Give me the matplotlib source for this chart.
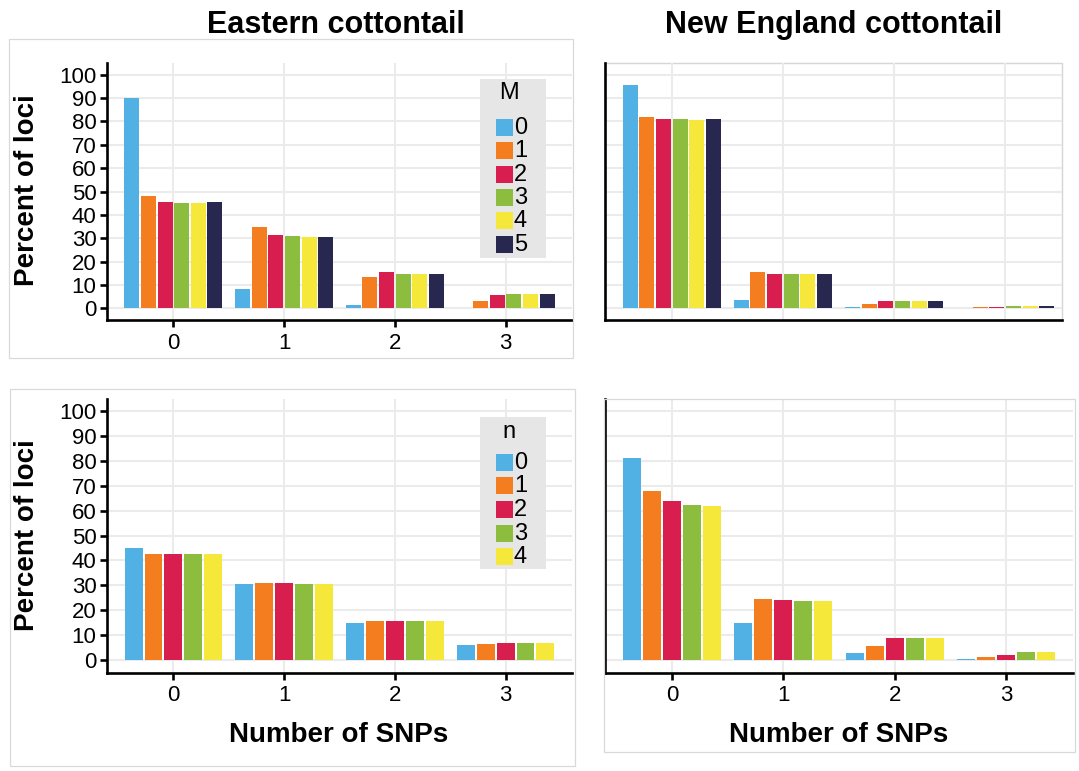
import numpy as np
import matplotlib
matplotlib.use("Agg")
import matplotlib.pyplot as plt
from matplotlib.patches import Rectangle
from matplotlib.lines import Line2D

# ---------------- data ----------------
snps = [0, 1, 2, 3]
snp_labels = ["0", "1", "2", "3"]
M_levels = ["0", "1", "2", "3", "4", "5"]
n_levels = ["0", "1", "2", "3", "4"]
y_ticks = list(range(0, 101, 10))

# Eastern cottontail, by M (rows = M level, cols = number of SNPs)
eastern_M = [
    [90.0, 8.3, 1.6, 0.3],
    [47.9, 35.0, 13.2, 3.3],
    [45.7, 31.2, 15.5, 5.6],
    [45.2, 30.9, 14.9, 6.2],
    [45.2, 30.6, 14.7, 6.0],
    [45.4, 30.6, 14.9, 6.0],
]
# New England cottontail, by M
newengland_M = [
    [95.6, 3.6, 0.7, 0.15],
    [82.1, 15.5, 1.7, 0.4],
    [81.1, 14.9, 3.3, 0.5],
    [80.9, 14.7, 3.0, 1.0],
    [80.8, 14.7, 3.0, 0.9],
    [81.1, 14.5, 3.0, 0.9],
]
# Eastern cottontail, by n
eastern_n = [
    [44.8, 30.7, 14.7, 6.0],
    [42.7, 31.1, 15.7, 6.6],
    [42.6, 30.8, 15.8, 6.7],
    [42.6, 30.7, 15.7, 6.7],
    [42.6, 30.5, 15.5, 6.7],
]
# New England cottontail, by n
newengland_n = [
    [81.1, 14.7, 3.0, 0.4],
    [67.7, 24.7, 5.6, 1.1],
    [63.7, 24.1, 8.8, 2.0],
    [62.2, 23.7, 8.8, 3.4],
    [61.9, 23.6, 8.7, 3.2],
]

colors = ["#51B1E4", "#F47D20", "#D81E4F", "#8CBD3F", "#F6E73B", "#27274F"]

titles = ["Eastern cottontail", "New England cottontail"]
ylabel = "Percent of loci"
xlabel = "Number of SNPs"

# ---------------- layout helpers ----------------
W, H = 1079, 771
FONT = "Liberation Sans"
plt.rcParams["font.family"] = [FONT, "DejaVu Sans"]

fig = plt.figure(figsize=(W / 100, H / 100), dpi=100)
fig.patch.set_facecolor("white")


def fx(x):
    return x / W


def fy(y):
    return 1 - y / H


def add_axes(x0, y0, x1, y1):
    return fig.add_axes([fx(x0), fy(y1), fx(x1) - fx(x0), (y1 - y0) / H])


def frame_box(x0, y0, x1, y1, z=0):
    fig.patches.append(Rectangle((fx(x0), fy(y1)), fx(x1) - fx(x0), (y1 - y0) / H,
                                 transform=fig.transFigure, fill=False,
                                 edgecolor="#D9D9D9", linewidth=0.9, zorder=z))


def draw_panel(ax, data, xlim, show_y, show_x, show_xticks):
    n = len(data)
    w = 0.9 / n
    x = np.array(snps, dtype=float)
    for i, vals in enumerate(data):
        off = -0.45 + w * (i + 0.5)
        ax.bar(x + off, vals, width=w * 0.9, color=colors[i], edgecolor="none",
               linewidth=0, zorder=3)
    ax.set_xlim(*xlim)
    ax.set_ylim(-5, 105)
    ax.set_yticks(y_ticks)
    ax.set_xticks(snps)
    ax.set_xticklabels(snp_labels)
    ax.grid(True, color="#EBEBEB", linewidth=1.5, zorder=0)
    ax.set_axisbelow(True)
    ax.set_facecolor("none")
    for s in ("top", "right"):
        ax.spines[s].set_visible(False)
    for s in ("left", "bottom"):
        ax.spines[s].set_color("black")
        ax.spines[s].set_linewidth(1.9)
        ax.spines[s].set_zorder(5)
    ax.tick_params(axis="both", labelsize=16, colors="black", width=1.9,
                   length=5, pad=2.5)
    ax.tick_params(axis="x", pad=4)
    if not show_y:
        ax.tick_params(axis="y", left=False, labelleft=False)
    if not show_xticks:
        ax.tick_params(axis="x", bottom=False)
    if not show_x:
        ax.tick_params(axis="x", labelbottom=False)


def draw_legend(title, levels, box, title_y, row0_y, row_step):
    x0, y0, x1, y1 = box
    fig.patches.append(Rectangle((fx(x0), fy(y1)), fx(x1) - fx(x0), (y1 - y0) / H,
                                 transform=fig.transFigure, facecolor="#E6E6E6",
                                 edgecolor="none", zorder=6))
    fig.text(fx(509), fy(title_y), title, fontsize=17, ha="center", va="center",
             zorder=7)
    for i, lab in enumerate(levels):
        yc = row0_y + row_step * i
        fig.patches.append(Rectangle((fx(496), fy(yc + 8.5)), 17 / W, 17 / H,
                                     transform=fig.transFigure,
                                     facecolor=colors[i], edgecolor="none",
                                     zorder=7))
        fig.text(fx(514), fy(yc + 0.5), lab, fontsize=17, ha="left", va="center",
                 zorder=8)


# ---------------- outer boxes ----------------
frame_box(9, 39, 573, 358)
frame_box(10, 389, 575, 766)
frame_box(603.6, 399, 1075, 752)
# top-right panel: only its top and right borders are visible
fig.add_artist(Line2D([fx(605), fx(1062), fx(1062)], [fy(63), fy(63), fy(320)],
                      transform=fig.transFigure, color="#D6D6D6", linewidth=1.0,
                      zorder=0))

# ---------------- panels ----------------
ax_tl = add_axes(107, 63, 572, 320)
draw_panel(ax_tl, eastern_M, (-0.6, 3.6), True, True, True)

ax_tr = add_axes(605, 63, 1062, 320)
draw_panel(ax_tr, newengland_M, (-0.6, 3.51), False, False, False)

ax_bl = add_axes(107, 398.5, 572, 672.5)
draw_panel(ax_bl, eastern_n, (-0.6, 3.6), True, True, True)

ax_br = add_axes(605, 398.5, 1073, 672.5)
draw_panel(ax_br, newengland_n, (-0.6, 3.6), False, True, True)

# ---------------- legends ----------------
draw_legend("M", M_levels, (480, 79, 546, 258), 93, 127.3, 23.4)
draw_legend("n", n_levels, (480, 417, 546, 569), 431.7, 462.3, 23.6)

# ---------------- titles / labels ----------------
fig.text(fx(336), fy(33), titles[0], fontsize=22, fontweight="bold",
         ha="center", va="baseline")
fig.text(fx(833.5), fy(33), titles[1], fontsize=22, fontweight="bold",
         ha="center", va="baseline")

fig.text(fx(27), fy(190.5), ylabel, fontsize=20, fontweight="bold",
         rotation=90, ha="center", va="center")
fig.text(fx(27), fy(535.5), ylabel, fontsize=20, fontweight="bold",
         rotation=90, ha="center", va="center")

fig.text(fx(339), fy(742), xlabel, fontsize=20, fontweight="bold",
         ha="center", va="baseline")
fig.text(fx(839), fy(742), xlabel, fontsize=20, fontweight="bold",
         ha="center", va="baseline")

fig.savefig("out.png", dpi=100, facecolor="white")
